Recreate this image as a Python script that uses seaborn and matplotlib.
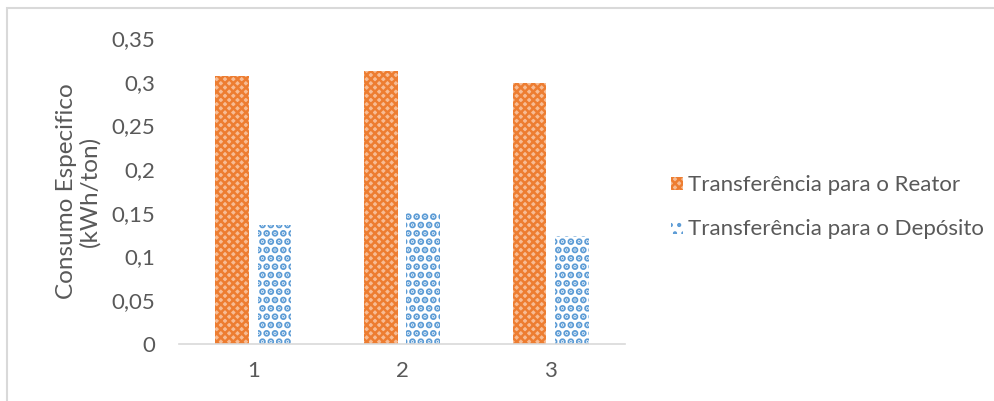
import matplotlib
matplotlib.use("Agg")
import matplotlib.pyplot as plt
import matplotlib.patches as mpatches
import seaborn as sns
import pandas as pd

# dados
ensaios = ["1", "2", "3"]
reator = [0.307, 0.312, 0.299]
deposito = [0.136, 0.151, 0.123]
series = ["Transferência para o Reator", "Transferência para o Depósito"]
yticks = [0, 0.05, 0.1, 0.15, 0.2, 0.25, 0.3, 0.35]
ytick_labels = ["0", "0,05", "0,1", "0,15", "0,2", "0,25", "0,3", "0,35"]

df = pd.DataFrame({
    "ensaio": ensaios * 2,
    "serie": [series[0]] * 3 + [series[1]] * 3,
    "valor": reator + deposito,
})

sns.set_style("white")
plt.rcParams["font.family"] = ["Lato", "DejaVu Sans"]
plt.rcParams["hatch.linewidth"] = 1.8

cor_txt = "#595959"
cor_eixo = "#d9d9d9"
laranja = "#ED7D31"
azul = "#5B9BD5"

fig = plt.figure(figsize=(9.94, 4.01), dpi=100)
ax = fig.add_axes([179 / 994, 1 - 344 / 401, (625 - 179) / 994, (344 - 38) / 401])

sns.barplot(data=df, x="ensaio", y="valor", hue="serie", order=ensaios,
            hue_order=series, palette=[laranja, azul], width=0.57, gap=0.2,
            ax=ax)

estilos = [
    dict(facecolor="#F7BC94", edgecolor=laranja, hatch="xxxx", hlw=1.8),
    dict(facecolor="white", edgecolor=azul, hatch="..", hlw=3.5),
]


def estilizar(p, est):
    p.set_facecolor(est["facecolor"])
    p.set_edgecolor(est["edgecolor"])
    p.set_hatch(est["hatch"])
    p.set_linewidth(0)
    if hasattr(p, "set_hatch_linewidth"):
        p.set_hatch_linewidth(est["hlw"])


for cont, est in zip(ax.containers, estilos):
    for barra in cont:
        estilizar(barra, est)

ax.set_ylim(0, 0.35)
ax.set_xlim(-0.5, 2.5)
ax.set_yticks(yticks)
ax.set_yticklabels(ytick_labels)
ax.tick_params(axis="y", length=0, pad=17, labelsize=16, labelcolor=cor_txt)
ax.tick_params(axis="x", which="major", length=0, pad=12, labelsize=16,
               labelcolor=cor_txt)
ax.set_xticks([-0.5, 0.5, 1.5, 2.5], minor=True)
ax.tick_params(axis="x", which="minor", length=6, width=1.2, color=cor_eixo,
               direction="out")

for s in ["left", "top", "right"]:
    ax.spines[s].set_visible(False)
ax.spines["bottom"].set_color(cor_eixo)
ax.spines["bottom"].set_linewidth(1.2)

ax.set_xlabel("")
ax.set_ylabel("Consumo Especifico\n(kWh/ton)", fontsize=17.5, color=cor_txt,
              labelpad=8, linespacing=1.1)

handles, labels = ax.get_legend_handles_labels()
for h, est in zip(handles, estilos):
    estilizar(h, est)
leg = ax.legend(handles, labels, loc="center left",
                bbox_to_anchor=(651 / 994, 1 - 207 / 401),
                bbox_transform=fig.transFigure, frameon=False,
                fontsize=16, handlelength=0.55, handleheight=0.55,
                handletextpad=0.2, labelspacing=1.05, labelcolor=cor_txt)

# moldura do gráfico
fig.patches.append(mpatches.Rectangle((7 / 994, -0.05), 1.2, 1 - 8 / 401 + 0.05,
                                      transform=fig.transFigure, fill=False,
                                      edgecolor=cor_eixo, linewidth=1.5))

fig.savefig("out.png", dpi=100)
